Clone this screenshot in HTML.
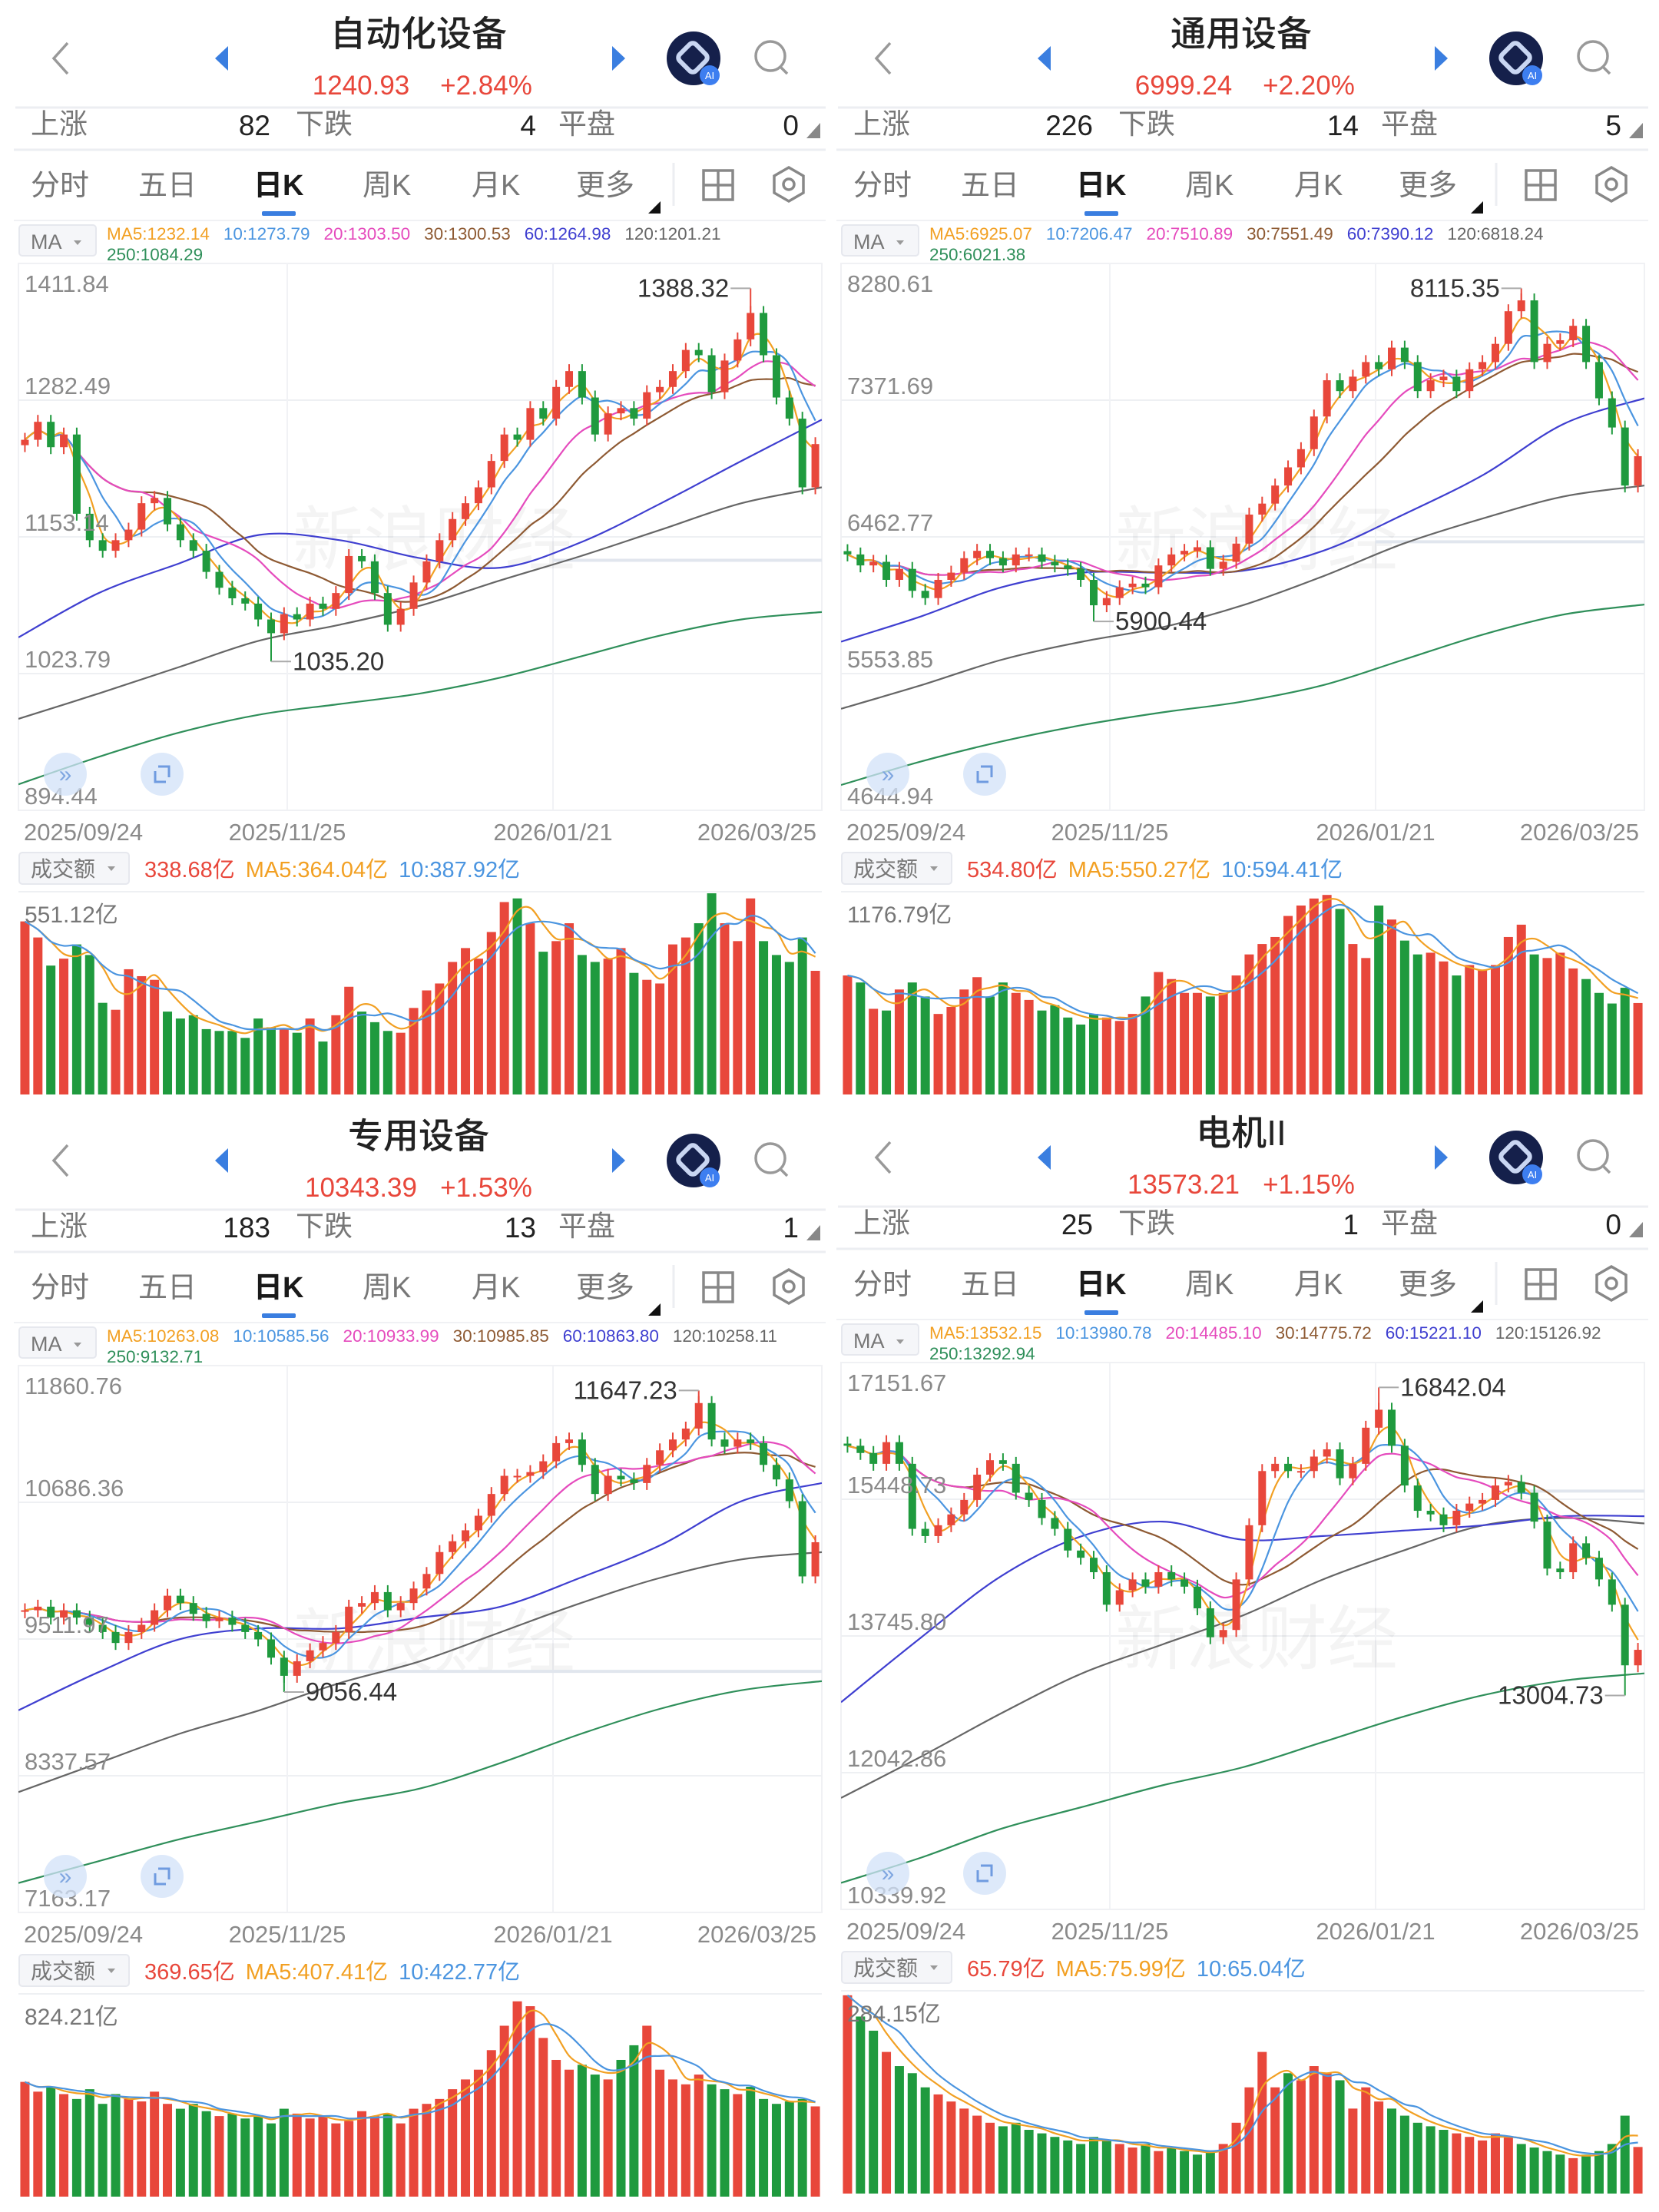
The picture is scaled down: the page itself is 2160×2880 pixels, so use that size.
<!DOCTYPE html>
<html><head><meta charset="utf-8">
<style>
html,body{margin:0;padding:0;background:#fff;}
svg{display:block;font-family:"Liberation Sans","Noto Sans CJK SC",sans-serif;}
</style></head>
<body>
<svg id="root" xmlns="http://www.w3.org/2000/svg" width="2160" height="2880" viewBox="0 0 2160 2880"></svg>
<script>
// ---------- data ----------
const p1Ticks=['1411.84','1282.49','1153.14','1023.79','894.44'];
const p1Closes=[1245,1262,1238,1250,1175,1150,1140,1150,1160,1185,1190,1165,1150,1140,1120,1105,1095,1090,1075,1062,1080,1075,1090,1085,1100,1135,1130,1100,1070,1085,1110,1130,1150,1170,1185,1200,1225,1250,1245,1275,1265,1295,1310,1285,1250,1270,1275,1265,1290,1295,1310,1330,1325,1290,1320,1340,1365,1325,1285,1265,1200,1240.93];
const p1Vols=[474,430,353,372,411,382,251,232,343,324,314,227,208,217,179,174,174,155,208,184,179,169,208,145,217,295,227,198,174,169,237,285,304,363,401,372,445,527,537,469,391,420,469,382,363,372,401,333,314,304,411,430,469,551,469,420,537,420,382,363,430,338.68];
const p1Ma60=[1058,1100,1128,1155,1150,1133,1124,1148,1185,1225,1264];
const p1Ma120=[981,1005,1030,1055,1070,1088,1112,1135,1160,1185,1200];
const p1Ma250=[919,945,968,985,995,1005,1020,1040,1060,1075,1082];

const p2Ticks=['8280.61','7371.69','6462.77','5553.85','4644.94'];
const p2Closes=[6346,6273,6297,6177,6250,6104,6056,6177,6225,6321,6370,6321,6273,6346,6346,6297,6273,6250,6177,6008,6056,6128,6152,6128,6273,6346,6370,6394,6250,6297,6418,6611,6684,6804,6925,7046,7263,7504,7432,7528,7625,7577,7721,7625,7432,7504,7528,7432,7577,7625,7746,7963,8035,7625,7746,7770,7866,7625,7384,7190,6804,6999.24];
const p2Vols=[696,655,501,491,614,655,573,471,512,614,686,573,655,594,553,491,522,450,409,471,450,430,471,573,716,675,594,594,573,594,696,819,880,921,1044,1105,1146,1167,1085,880,798,1105,1023,900,819,829,778,696,757,726,757,921,993,819,798,829,737,675,594,532,624,534.8];
const p2Ma60=[5766,5935,6128,6225,6225,6237,6370,6611,6877,7215,7384];
const p2Ma120=[5320,5477,5646,5766,5862,6008,6201,6418,6587,6732,6804];
const p2Ma250=[4813,4970,5103,5211,5296,5368,5477,5646,5815,5947,6013];

const p3Ticks=['11860.76','10686.36','9511.97','8337.57','7163.17'];
const p3Closes=[9759,9790,9696,9759,9696,9634,9572,9478,9572,9634,9759,9884,9821,9728,9665,9696,9634,9572,9509,9352,9196,9321,9415,9478,9572,9790,9821,9915,9759,9821,9946,10071,10259,10352,10446,10571,10758,10914,10914,10946,11039,11195,11226,11008,10758,10914,10883,10852,11008,11133,11226,11320,11539,11226,11164,11226,11195,11008,10883,10696,10050,10343.39];
const p3Vols=[470,430,450,420,400,440,380,420,400,390,430,380,360,380,350,330,340,320,330,300,360,340,320,330,300,310,350,330,340,300,360,380,400,440,480,520,600,700,800,780,650,560,520,540,500,480,560,620,700,520,480,460,500,460,440,420,450,400,380,390,400,369.65];
const p3Ma60=[8900,9228,9509,9603,9603,9696,9790,10040,10321,10696,10852];
const p3Ma120=[8197,8447,8697,8900,9134,9321,9571,9821,10040,10196,10258];
const p3Ma250=[7416,7604,7791,7947,8103,8228,8447,8697,8915,9072,9150];

const p4Ticks=['17151.67','15448.73','13745.80','12042.86','10339.92'];
const p4Closes=[16115,16025,15890,16160,15890,15080,14990,15125,15260,15440,15755,15935,15890,15530,15440,15215,15080,14810,14720,14540,14135,14315,14450,14360,14540,14450,14360,14090,13730,13820,14450,15125,15800,15890,15800,15800,15980,16070,15710,15890,16340,16564,16115,15620,15305,15260,15125,15305,15395,15440,15620,15665,15530,15170,14585,14540,14900,14720,14450,14135,13380,13573.21];
const p4Vols=[280,250,230,200,180,170,150,140,130,120,110,100,95,100,90,85,80,75,70,80,75,70,65,70,60,65,60,55,60,70,100,150,200,150,170,160,180,170,160,120,150,130,120,110,100,95,90,85,80,75,85,80,70,65,60,55,50,55,60,70,110,65.79];
const p4Ma60=[12920,13730,14495,14990,15170,14945,14990,15057,15125,15237,15237];
const p4Ma120=[11728,12245,12785,13280,13640,14000,14450,14810,15125,15215,15147];
const p4Ma250=[10670,10986,11346,11615,11885,12110,12425,12740,13010,13190,13280];

const dateLabels=['2025/09/24','2025/11/25','2026/01/21','2026/03/25'];
const maColors=['#f2a023','#4b95e0','#e54bbd','#8e5a33','#3f3fd0','#666666','#2f8f5a'];

const panels=[
 {ox:0,oy:0,title:'自动化设备',price:'1240.93',pct:'+2.84%',up:'82',down:'4',flat:'0',
  ma:['MA5:1232.14','10:1273.79','20:1303.50','30:1300.53','60:1264.98','120:1201.21','250:1084.29'],
  ticks:p1Ticks,closes:p1Closes,vols:p1Vols,ma60:p1Ma60,ma120:p1Ma120,ma250:p1Ma250,
  hi:1388.32,hiSide:'left',lo:1035.20,loSide:'right',volMax:551.12,volLabel:'551.12亿',
  volLeg:['338.68亿','MA5:364.04亿','10:387.92亿'],refVal:1131,refFrom:720},
 {ox:1071,oy:0,title:'通用设备',price:'6999.24',pct:'+2.20%',up:'226',down:'14',flat:'5',
  ma:['MA5:6925.07','10:7206.47','20:7510.89','30:7551.49','60:7390.12','120:6818.24','250:6021.38'],
  ticks:p2Ticks,closes:p2Closes,vols:p2Vols,ma60:p2Ma60,ma120:p2Ma120,ma250:p2Ma250,
  hi:8115.35,hiSide:'left',lo:5900.44,loSide:'right',volMax:1176.79,volLabel:'1176.79亿',
  volLeg:['534.80亿','MA5:550.27亿','10:594.41亿'],refVal:6430,refFrom:720},
 {ox:0,oy:1435,title:'专用设备',price:'10343.39',pct:'+1.53%',up:'183',down:'13',flat:'1',
  ma:['MA5:10263.08','10:10585.56','20:10933.99','30:10985.85','60:10863.80','120:10258.11','250:9132.71'],
  ticks:p3Ticks,closes:p3Closes,vols:p3Vols,ma60:p3Ma60,ma120:p3Ma120,ma250:p3Ma250,
  hi:11647.23,hiSide:'left',lo:9056.44,loSide:'right',volMax:824.21,volLabel:'824.21亿',
  volLeg:['369.65亿','MA5:407.41亿','10:422.77亿'],refVal:9234,refFrom:374},
 {ox:1071,oy:1431,title:'电机II',price:'13573.21',pct:'+1.15%',up:'25',down:'1',flat:'0',
  ma:['MA5:13532.15','10:13980.78','20:14485.10','30:14775.72','60:15221.10','120:15126.92','250:13292.94'],
  ticks:p4Ticks,closes:p4Closes,vols:p4Vols,ma60:p4Ma60,ma120:p4Ma120,ma250:p4Ma250,
  hi:16842.04,hiSide:'right',lo:13004.73,loSide:'left',volMax:284.15,volLabel:'284.15亿',
  volLeg:['65.79亿','MA5:75.99亿','10:65.04亿'],refVal:15550,refFrom:900}
];

// ---------- helpers ----------
const NS='http://www.w3.org/2000/svg';
const root=document.getElementById('root');
function mk(tag,attrs,parent,text){
  const e=document.createElementNS(NS,tag);
  for(const k in attrs)e.setAttribute(k,attrs[k]);
  if(text!==undefined)e.textContent=text;
  (parent||root).appendChild(e);return e;
}
function movAvg(a,n){return a.map((_,i)=>{const s=Math.max(0,i-n+1);let t=0;for(let j=s;j<=i;j++)t+=a[j];return t/(i-s+1);});}
function smoothPath(pts){
  let d='M'+pts[0][0].toFixed(1)+','+pts[0][1].toFixed(1);
  for(let i=0;i<pts.length-1;i++){
    const p0=pts[Math.max(0,i-1)],p1=pts[i],p2=pts[i+1],p3=pts[Math.min(pts.length-1,i+2)];
    const c1=[p1[0]+(p2[0]-p0[0])/6,p1[1]+(p2[1]-p0[1])/6],c2=[p2[0]-(p3[0]-p1[0])/6,p2[1]-(p3[1]-p1[1])/6];
    d+=' C'+c1[0].toFixed(1)+','+c1[1].toFixed(1)+' '+c2[0].toFixed(1)+','+c2[1].toFixed(1)+' '+p2[0].toFixed(1)+','+p2[1].toFixed(1);
  }
  return d;
}
const RED='#e8473b',GREEN='#1f9a3e';

panels.forEach((P,pi)=>{
  const g=mk('g',{transform:'translate('+P.ox+','+P.oy+')'});
  
  

  // header
  const back=mk('polyline',{points:'88,56 70,76 88,96',fill:'none',stroke:'#999','stroke-width':3.5},g);
  
  const pl=mk('polygon',{points:'297,60 280,76 297,92',fill:'#3a7ee0'},g);
  
  const pr=mk('polygon',{points:'797,60 814,76 797,92',fill:'#3a7ee0'},g);
  
  const tt=mk('text',{x:545,y:60,'text-anchor':'middle','font-size':46,fill:'#222','font-weight':'500'},g,P.title);
  
  const pv=mk('text',{x:470,y:123,'text-anchor':'middle','font-size':35,fill:RED},g,P.price);
  
  const pc=mk('text',{x:633,y:123,'text-anchor':'middle','font-size':35,fill:RED},g,P.pct);
  
  const ai=mk('g',{},g);
  mk('circle',{cx:903,cy:76,r:35,fill:'#15204b'},ai);
  mk('rect',{x:887,y:60,width:30,height:30,rx:6,fill:'none',stroke:'#c9d6f2','stroke-width':6,transform:'rotate(45 902 75)'},ai);
  mk('circle',{cx:924,cy:98,r:13,fill:'#3d7ef0'},ai);
  mk('text',{x:924,y:103,'text-anchor':'middle','font-size':13,fill:'#fff'},ai,'AI');
  const se=mk('g',{},g);
  mk('circle',{cx:1003,cy:73,r:19,fill:'none',stroke:'#999','stroke-width':3.5},se);
  mk('line',{x1:1016,y1:87,x2:1025,y2:96,stroke:'#999','stroke-width':3.5},se);
  mk('line',{x1:20,y1:140,x2:1075,y2:140,stroke:'#eceef2','stroke-width':3},g);
  // breadth row
  const br=mk('g',{'font-size':37},g);
  mk('text',{x:40,y:174,fill:'#777'},br,'上涨');
  mk('text',{x:352,y:176,'text-anchor':'end',fill:'#222'},br,P.up);
  mk('text',{x:385,y:174,fill:'#777'},br,'下跌');
  mk('text',{x:698,y:176,'text-anchor':'end',fill:'#222'},br,P.down);
  mk('text',{x:727,y:174,fill:'#777'},br,'平盘');
  mk('text',{x:1040,y:176,'text-anchor':'end',fill:'#222'},br,P.flat);
  mk('polygon',{points:'1068,160 1068,180 1050,180',fill:'#888'},br);
  mk('line',{x1:18,y1:195,x2:1075,y2:195,stroke:'#eceef2','stroke-width':3},g);
  // tabs
  const tabs=['分时','五日','日K','周K','月K','更多'];const tx=[40,180,330,472,614,750];
  tabs.forEach((t,i)=>{
    const e=mk('text',{x:tx[i],y:254,'font-size':38,fill:i===2?'#1a1a1a':'#777','font-weight':i===2?'bold':'normal'},g,t);
    
    
  });
  mk('rect',{x:341,y:275,width:44,height:6,rx:2,fill:'#3a7ee0'},g);
  mk('polygon',{points:'860,262 860,278 844,278',fill:'#111'},g);
  mk('line',{x1:877,y1:212,x2:877,y2:268,stroke:'#eceef2','stroke-width':3},g);
  const gi=mk('g',{},g);
  mk('rect',{x:916,y:222,width:38,height:38,fill:'none',stroke:'#888','stroke-width':3.5},gi);
  mk('line',{x1:935,y1:222,x2:935,y2:260,stroke:'#888','stroke-width':3.5},gi);
  mk('line',{x1:916,y1:241,x2:954,y2:241,stroke:'#888','stroke-width':3.5},gi);
  const st=mk('g',{},g);
  mk('polygon',{points:'1027,218 1046,229 1046,251 1027,262 1008,251 1008,229',fill:'none',stroke:'#888','stroke-width':3.5},st);
  mk('circle',{cx:1027,cy:240,r:7,fill:'none',stroke:'#888','stroke-width':3.5},st);
  mk('line',{x1:18,y1:287,x2:1075,y2:287,stroke:'#f0f1f4','stroke-width':2},g);
  // MA legend
  const mb=mk('g',{},g);
  mk('rect',{x:25,y:293,width:100,height:40,rx:4,fill:'#f5f6f9',stroke:'#e6e8ee','stroke-width':2},mb);
  mk('text',{x:40,y:324,'font-size':27,fill:'#777'},mb,'MA');
  mk('polygon',{points:'96,313 106,313 101,319',fill:'#999'},mb);
  const ml=mk('g',{'font-size':22.5},g);
  let lx=139;
  P.ma.forEach((m,i)=>{
    if(i===6){mk('text',{x:139,y:339,fill:maColors[i]},ml,m);return;}
    const e=mk('text',{x:lx,y:312,fill:maColors[i]},ml,m);
    lx+=e.getComputedTextLength()+18;
  });

  // price chart
  const L=24,R=1070,T=343,B=1055;
  const top=parseFloat(P.ticks[0]),bot=parseFloat(P.ticks[4]);
  const ys=v=>T+(top-v)/(top-bot)*(B-T);
  const n=P.closes.length,pitch=(R-L)/n;
  const xs=i=>L+(i+0.5)*pitch;
  const ch=mk('g',{},g);
  mk('rect',{x:L,y:T,width:R-L,height:B-T,fill:'none',stroke:'#f0f1f4','stroke-width':2},ch);
  [1,2,3].forEach(k=>mk('line',{x1:L,y1:T+k*(B-T)/4,x2:R,y2:T+k*(B-T)/4,stroke:'#eef0f3','stroke-width':2},ch));
  [374,720].forEach(x=>mk('line',{x1:x,y1:T,x2:x,y2:B,stroke:'#f1f2f5','stroke-width':2},ch));
  const wm=mk('text',{x:565,y:735,'text-anchor':'middle','font-size':92,fill:'rgba(0,0,0,0.045)'},ch,'新浪财经');
  
  mk('line',{x1:P.refFrom,y1:ys(P.refVal),x2:R,y2:ys(P.refVal),stroke:'#e1e6ee','stroke-width':4},ch);
  const cid='clip'+pi;
  const cp=mk('clipPath',{id:cid},ch);mk('rect',{x:L,y:T,width:R-L,height:B-T},cp);
  const lines=mk('g',{'clip-path':'url(#'+cid+')',fill:'none','stroke-width':2.2},ch);
  const nodes=arr=>arr.map((v,k)=>[L+k*(R-L)/(arr.length-1),ys(v)]);
  [[P.ma250,6,'ma250-line'],[P.ma120,5,'ma120-line'],[P.ma60,4,'ma60-line']].forEach(([arr,ci,nm])=>{
    const e=mk('path',{d:smoothPath(nodes(arr)),stroke:maColors[ci]},lines);
    
  });
  [[15,3,'ma30-line'],[10,2,'ma20-line'],[5,1,'ma10-line'],[3,0,'ma5-line']].forEach(([w,ci,nm])=>{
    const a=movAvg(P.closes,w);
    const e=mk('path',{d:smoothPath(a.map((v,i)=>[xs(i),ys(v)])),stroke:maColors[ci]},lines);
    
  });
  const cg=mk('g',{},ch);
  let hiI=0,loI=0;
  P.closes.forEach((c,i)=>{
    const o=i===0?c-(P.closes[1]-c)*0.3:P.closes[i-1];
    if(c>P.closes[hiI])hiI=i; if(c<P.closes[loI])loI=i;
    const col=c>=o?RED:GREEN;
    const y1=ys(Math.max(o,c)),y2=ys(Math.min(o,c));
    const x=xs(i);
    const cd=mk('g',{},cg);
    
    mk('line',{x1:x,y1:y1-9,x2:x,y2:y2+9,stroke:col,'stroke-width':2},cd);
    mk('rect',{x:x-5,y:y1,width:10,height:Math.max(2,y2-y1),fill:col},cd);
  });
  const hy=ys(P.hi),ly=ys(P.lo);
  mk('line',{x1:xs(hiI),y1:hy,x2:xs(hiI),y2:ys(P.closes[hiI]),stroke:RED,'stroke-width':2},cg);
  mk('line',{x1:xs(loI),y1:ly,x2:xs(loI),y2:ys(P.closes[loI]),stroke:GREEN,'stroke-width':2},cg);
  function ext(val,y,i,side,name){
    const x=xs(i);
    const gx=mk('g',{},ch);
    if(side==='left'){mk('line',{x1:x-26,y1:y,x2:x,y2:y,stroke:'#aaa','stroke-width':2},gx);
      mk('text',{x:x-28,y:y+11,'text-anchor':'end','font-size':33,fill:'#333'},gx,val.toFixed(2));}
    else{mk('line',{x1:x,y1:y,x2:x+26,y2:y,stroke:'#aaa','stroke-width':2},gx);
      mk('text',{x:x+28,y:y+11,'font-size':33,fill:'#333'},gx,val.toFixed(2));}
  }
  ext(P.hi,hy,hiI,P.hiSide,'high-marker');
  ext(P.lo,ly,loI,P.loSide,'low-marker');
  // y tick labels
  P.ticks.forEach((t,k)=>{
    const y=k===0?T+37:T+k*(B-T)/4-8;
    const e=mk('text',{x:L+8,y:y,'font-size':31,fill:'#8a8a8a'},ch,t);
    
  });
  // floating buttons
  const fb=mk('g',{},g);
  mk('circle',{cx:85,cy:1008,r:28,fill:'rgba(210,226,248,0.75)'},fb);
  mk('text',{x:85,y:1018,'text-anchor':'middle','font-size':30,fill:'#7fa6e0'},fb,'»');
  const fs=mk('g',{},g);
  mk('circle',{cx:211,cy:1008,r:28,fill:'rgba(210,226,248,0.75)'},fs);
  mk('polyline',{points:'202,1004 202,1018 216,1018',fill:'none',stroke:'#6f9be0','stroke-width':3},fs);
  mk('polyline',{points:'206,998 220,998 220,1012',fill:'none',stroke:'#6f9be0','stroke-width':3},fs);
  // dates
  const dx=[[31,'start'],[374,'middle'],[720,'middle'],[1063,'end']];
  dateLabels.forEach((d,i)=>{
    const e=mk('text',{x:dx[i][0],y:1094,'text-anchor':dx[i][1],'font-size':31,fill:'#8a8a8a'},g,d);
    
  });
  // volume legend
  const vb=mk('g',{},g);
  mk('rect',{x:25,y:1110,width:143,height:41,rx:4,fill:'#f5f6f9',stroke:'#e6e8ee','stroke-width':2},vb);
  mk('text',{x:40,y:1141,'font-size':28,fill:'#777'},vb,'成交额');
  mk('polygon',{points:'140,1128 150,1128 145,1134',fill:'#999'},vb);
  const vl=mk('g',{'font-size':29},g);
  let vx=188;
  P.volLeg.forEach((t,i)=>{const e=mk('text',{x:vx,y:1142,fill:[RED,'#f2a023','#4b95e0'][i]},vl,t);vx+=e.getComputedTextLength()+14;});
  // volume chart
  const VT=1161,VB=1425;
  const vy=v=>VB-v/P.volMax*(VB-VT-2);
  const vc=mk('g',{},g);
  mk('line',{x1:L,y1:VT,x2:R,y2:VT,stroke:'#eef0f3','stroke-width':2},vc);
  P.vols.forEach((v,i)=>{
    const c=P.closes[i],o=i===0?c-1:P.closes[i-1];
    const r=mk('rect',{x:xs(i)-6,y:vy(v),width:12,height:VB-vy(v),fill:c>=o?RED:GREEN},vc);
    
  });
  [[3,'#f2a023','volume-ma5-line'],[5,'#4b95e0','volume-ma10-line']].forEach(([w,col,nm])=>{
    const a=movAvg(P.vols,w);
    const e=mk('path',{d:smoothPath(a.map((v,i)=>[xs(i),vy(v)])),fill:'none',stroke:col,'stroke-width':2.2},vc);
    
  });
  const vlab=mk('text',{x:L+8,y:VT+40,'font-size':30,fill:'#777'},vc,P.volLabel);
  
});
</script>
</body></html>
